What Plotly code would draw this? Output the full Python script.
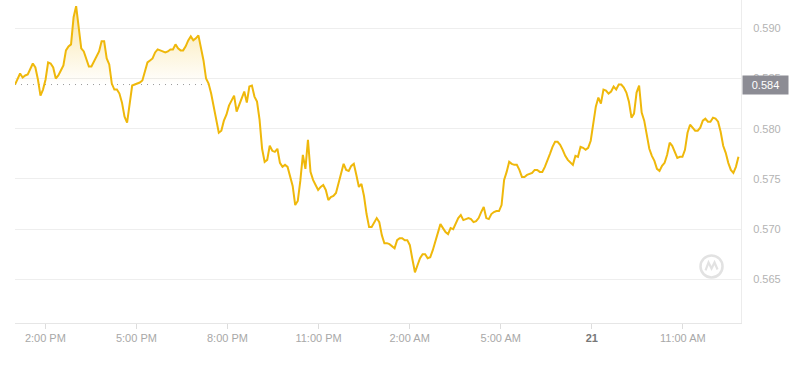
import pandas as pd
import plotly.graph_objects as go

# ---- data (price every ~5 minutes) ----
start_time = "2025-01-20 13:00"
end_time = "2025-01-21 12:50"
prices = [
    0.5844, 0.5849, 0.5855, 0.5851, 0.5853, 0.5854, 0.5860, 0.5865, 0.5861, 0.5849,
    0.5833, 0.5839, 0.5849, 0.5866, 0.5865, 0.5861, 0.5850, 0.5853, 0.5858, 0.5863,
    0.5878, 0.5882, 0.5884, 0.5911, 0.5922, 0.5900, 0.5880, 0.5877, 0.5869, 0.5862,
    0.5862, 0.5867, 0.5872, 0.5877, 0.5887, 0.5887, 0.5870, 0.5864, 0.5845, 0.5839,
    0.5839, 0.5835, 0.5826, 0.5812, 0.5806, 0.5826, 0.5843, 0.5844, 0.5845, 0.5846,
    0.5848, 0.5856, 0.5866, 0.5868, 0.5870, 0.5876, 0.5879, 0.5878, 0.5877, 0.5876,
    0.5877, 0.5879, 0.5879, 0.5884, 0.5880, 0.5878, 0.5878, 0.5882, 0.5888, 0.5892,
    0.5888, 0.5890, 0.5893, 0.5882, 0.5868, 0.5850, 0.5845, 0.5835, 0.5823, 0.5811,
    0.5796, 0.5798, 0.5808, 0.5814, 0.5823, 0.5828, 0.5833, 0.5817, 0.5824, 0.5832,
    0.5837, 0.5826, 0.5842, 0.5843, 0.5832, 0.5827, 0.5809, 0.5780, 0.5767, 0.5769,
    0.5783, 0.5778, 0.5777, 0.5780, 0.5766, 0.5762, 0.5764, 0.5762, 0.5752, 0.5743,
    0.5724, 0.5728, 0.5748, 0.5774, 0.5760, 0.5789, 0.5757, 0.5749, 0.5744, 0.5739,
    0.5742, 0.5744, 0.5739, 0.5729, 0.5732, 0.5733, 0.5736, 0.5745, 0.5756, 0.5765,
    0.5759, 0.5758, 0.5763, 0.5765, 0.5754, 0.5742, 0.5745, 0.5733, 0.5715, 0.5702,
    0.5702, 0.5707, 0.5711, 0.5707, 0.5694, 0.5686, 0.5686, 0.5685, 0.5683, 0.5681,
    0.5689, 0.5691, 0.5691, 0.5689, 0.5689, 0.5684, 0.5670, 0.5657, 0.5664, 0.5671,
    0.5675, 0.5675, 0.5671, 0.5672, 0.5679, 0.5688, 0.5696, 0.5705, 0.5701, 0.5697,
    0.5695, 0.5701, 0.5700, 0.5705, 0.5711, 0.5714, 0.5709, 0.5710, 0.5711, 0.5710,
    0.5707, 0.5708, 0.5711, 0.5717, 0.5722, 0.5711, 0.5710, 0.5715, 0.5717, 0.5718,
    0.5718, 0.5724, 0.5749, 0.5757, 0.5767, 0.5765, 0.5764, 0.5764, 0.5759, 0.5752,
    0.5752, 0.5754, 0.5755, 0.5756, 0.5759, 0.5759, 0.5757, 0.5757, 0.5762, 0.5768,
    0.5775, 0.5782, 0.5787, 0.5787, 0.5784, 0.5779, 0.5773, 0.5769, 0.5766, 0.5764,
    0.5773, 0.5772, 0.5782, 0.5781, 0.5779, 0.5781, 0.5788, 0.5804, 0.5822, 0.5831,
    0.5825, 0.5839, 0.5838, 0.5835, 0.5837, 0.5842, 0.5839, 0.5844, 0.5844, 0.5841,
    0.5836, 0.5827, 0.5811, 0.5815, 0.5836, 0.5843, 0.5816, 0.5808, 0.5792, 0.5780,
    0.5773, 0.5768, 0.5760, 0.5758, 0.5763, 0.5766, 0.5774, 0.5786, 0.5783, 0.5776,
    0.5771, 0.5772, 0.5772, 0.5779, 0.5796, 0.5804, 0.5801, 0.5798, 0.5798, 0.5801,
    0.5808, 0.5810, 0.5807, 0.5807, 0.5811, 0.5810, 0.5807, 0.5797, 0.5783, 0.5776,
    0.5766, 0.5759, 0.5756, 0.5762, 0.5772,
]
base_price = prices[0]
baseline_end = "2025-01-20 19:20"

x_tick_vals = ["2025-01-20 14:00", "2025-01-20 17:00", "2025-01-20 20:00", "2025-01-20 23:00",
               "2025-01-21 02:00", "2025-01-21 05:00", "2025-01-21 08:00", "2025-01-21 11:00"]
x_tick_text = ["2:00 PM", "5:00 PM", "8:00 PM", "11:00 PM",
               "2:00 AM", "5:00 AM", "<b style='color:#777'>21</b>", "11:00 AM"]
y_tick_vals = [0.565, 0.570, 0.575, 0.580, 0.585, 0.590]

times = pd.date_range(start_time, end_time, periods=len(prices))
fill_top = [max(p, base_price) for p in prices]

LINE = "#EFB80B"

fig = go.Figure()
fig.add_trace(go.Scatter(x=times, y=[base_price] * len(prices), mode="lines",
                         line=dict(width=0), hoverinfo="skip", showlegend=False))
fig.add_trace(go.Scatter(x=times, y=fill_top, mode="lines", line=dict(width=0),
                         fill="tonexty",
                         fillgradient=dict(type="vertical",
                                           colorscale=[[0, "rgba(240,185,11,0.0)"],
                                                       [1, "rgba(240,185,11,0.36)"]]),
                         hoverinfo="skip", showlegend=False))
fig.add_trace(go.Scatter(x=[times[0], pd.Timestamp(baseline_end)], y=[base_price, base_price],
                         mode="lines", line=dict(color="#9a9a9a", width=1, dash="1px,5px"),
                         hoverinfo="skip", showlegend=False))
fig.add_trace(go.Scatter(x=times, y=prices, mode="lines",
                         line=dict(color=LINE, width=2), showlegend=False))

fig.add_annotation(xref="paper", x=1, xanchor="left", xshift=1,
                   yref="y", y=base_price, yanchor="middle",
                   text=f"{base_price:.3f}", showarrow=False,
                   bgcolor="#8c8c94", font=dict(color="#ffffff", size=11,
                                               family="Liberation Sans, Arial, sans-serif"),
                   width=41, height=14, borderpad=2, align="center")

# watermark logo
fig.add_shape(type="circle", xref="paper", yref="paper", xsizemode="pixel", ysizemode="pixel",
              xanchor=0.9594, yanchor=0.175, x0=-11, x1=11, y0=-11, y1=11,
              line=dict(color="#e2e2e2", width=2.5), layer="below")
fig.add_shape(type="path", xref="paper", yref="paper", xsizemode="pixel", ysizemode="pixel",
              xanchor=0.9594, yanchor=0.175,
              path="M -6,-4 L -3,4 L 0,-2 L 3,4 L 6,-3",
              line=dict(color="#e2e2e2", width=2.2), layer="below")

fig.update_layout(
    width=800, height=370,
    margin=dict(l=15, r=59, t=0, b=47),
    paper_bgcolor="#ffffff", plot_bgcolor="#ffffff",
    font=dict(family="Liberation Sans, Arial, sans-serif", size=11, color="#aaaaaa"),
    showlegend=False,
    xaxis=dict(type="date", range=["2025-01-20 13:00", "2025-01-21 12:55"],
               tickvals=x_tick_vals, ticktext=x_tick_text,
               showgrid=False, zeroline=False,
               showline=True, linecolor="#e6e6e6", linewidth=1,
               ticks="outside", ticklen=5, tickcolor="#dddddd",
               tickfont=dict(size=11, color="#a8a8a8")),
    yaxis=dict(side="right", range=[0.56065, 0.59282],
               tickvals=y_tick_vals, tickformat=".3f",
               showgrid=True, gridcolor="#eeeeee", gridwidth=1, zeroline=False,
               showline=True, linecolor="#ececec", linewidth=1,
               ticks="", ticklabelstandoff=9,
               tickfont=dict(size=11, color="#b3b3b3")),
)

fig.write_html("out.html")
